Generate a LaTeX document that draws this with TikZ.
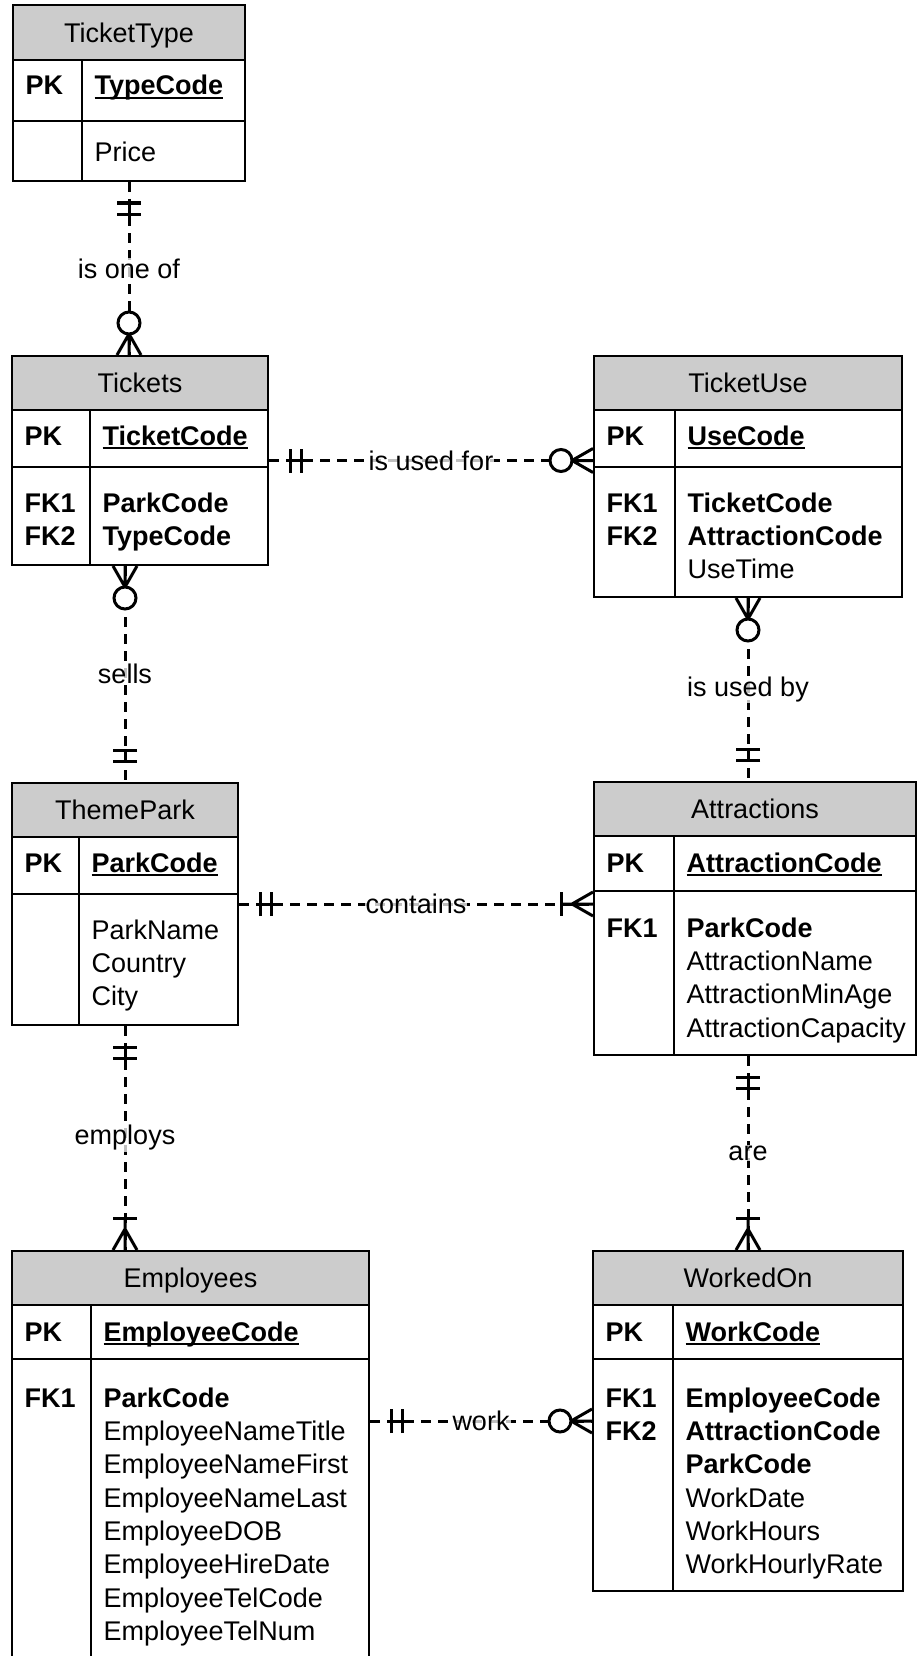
\documentclass[tikz,border=0pt]{standalone}
\usepackage{fontspec}
\setmainfont{Liberation Sans}
\usetikzlibrary{calc}
\definecolor{hdrgray}{RGB}{204,204,204}
\newcommand{\efont}{\fontsize{27}{33.3}\selectfont}
\newcommand{\ulfield}[1]{\draw[line width=2pt] ([yshift=-3pt]#1.base west) -- ([yshift=-3pt]#1.base east);}
\newcommand{\oneonly}[2]{\begin{scope}[shift={(#1)}, rotate=#2]
  \draw[sym] (21pt,-12pt) -- (21pt,12pt) (32pt,-12pt) -- (32pt,12pt) (21pt,0pt) -- (32pt,0pt);
\end{scope}}
\newcommand{\zeromany}[2]{\begin{scope}[shift={(#1)}, rotate=#2]
  \draw[sym] (0pt,-12pt) -- (21pt,0pt) -- (0pt,12pt) (0pt,0pt) -- (21pt,0pt);
  \draw[sym, fill=white] (32pt,0pt) circle (11pt);
\end{scope}}
\newcommand{\onemany}[2]{\begin{scope}[shift={(#1)}, rotate=#2]
  \draw[sym] (0pt,-12pt) -- (21pt,0pt) -- (0pt,12pt) (0pt,0pt) -- (32pt,0pt);
  \draw[sym] (32pt,-12pt) -- (32pt,12pt);
\end{scope}}
\begin{document}
\begin{tikzpicture}[x=1pt,y=-1pt,
  entbox/.style={draw, line width=2pt, inner sep=0pt, rectangle},
  hdrbox/.style={draw, line width=2pt, fill=hdrgray, inner sep=0pt, rectangle, font=\efont, text height=19.5pt, text depth=0pt},
  sec/.style={line width=2pt},
  divl/.style={line width=1.6pt},
  key/.style={anchor=base west, inner sep=0pt, font=\efont\bfseries},
  bfld/.style={anchor=base west, inner sep=0pt, font=\efont\bfseries},
  att/.style={anchor=base west, inner sep=0pt, font=\efont},
  rel/.style={line width=3pt, dash pattern=on 10pt off 7pt},
  sym/.style={line width=3pt, solid},
  lbl/.style={fill=white, fill opacity=0.75, text opacity=1, inner sep=1pt, font=\efont}
]
\useasboundingbox (0,0) rectangle (916,1656);

% ---------------- TicketType
\node[entbox, minimum width=232pt, minimum height=176pt] (tt) at (129,93) {};
\node[hdrbox, minimum width=232pt, minimum height=55pt, anchor=north] (tth) at (tt.north) {TicketType};
\draw[sec] (13,121) -- (245,121);
\draw[divl] (82,60) -- (82,181);
\node[key] (ttk1) at (25.5,95) {PK};
\node[bfld] (ttf1) at (94.5,95) {TypeCode};
\ulfield{ttf1}
\node[att] (ttf2) at (94.5,162) {Price};

% ---------------- Tickets
\node[entbox, minimum width=256pt, minimum height=209pt] (tickets) at (140,460.5) {};
\node[hdrbox, minimum width=256pt, minimum height=54pt, anchor=north] (tih) at (tickets.north) {Tickets};
\draw[sec] (12,467) -- (268,467);
\draw[divl] (90,410) -- (90,565);
\node[key] (tik1) at (24.5,445) {PK};
\node[bfld] (tif1) at (102.5,445) {TicketCode};
\ulfield{tif1}
\node[key] (tik2) at (24.5,512) {FK1};
\node[bfld] (tif2) at (102.5,512) {ParkCode};
\node[key] (tik3) at (24.5,545.3) {FK2};
\node[bfld] (tif3) at (102.5,545.3) {TypeCode};

% ---------------- TicketUse
\node[entbox, minimum width=308pt, minimum height=241pt] (tu) at (748,476.5) {};
\node[hdrbox, minimum width=308pt, minimum height=54pt, anchor=north] (tuh) at (tu.north) {TicketUse};
\draw[sec] (594,467) -- (902,467);
\draw[divl] (675,410) -- (675,597);
\node[key] (tuk1) at (606.5,445) {PK};
\node[bfld] (tuf1) at (687.5,445) {UseCode};
\ulfield{tuf1}
\node[key] (tuk2) at (606.5,512) {FK1};
\node[bfld] (tuf2) at (687.5,512) {TicketCode};
\node[key] (tuk3) at (606.5,545.3) {FK2};
\node[bfld] (tuf3) at (687.5,545.3) {AttractionCode};
\node[att] (tuf4) at (687.5,578.6) {UseTime};

% ---------------- ThemePark
\node[entbox, minimum width=226pt, minimum height=242pt] (tp) at (125,904) {};
\node[hdrbox, minimum width=226pt, minimum height=54pt, anchor=north] (tph) at (tp.north) {ThemePark};
\draw[sec] (12,894) -- (238,894);
\draw[divl] (79,837) -- (79,1025);
\node[key] (tpk1) at (24.5,872) {PK};
\node[bfld] (tpf1) at (91.5,872) {ParkCode};
\ulfield{tpf1}
\node[att] (tpf2) at (91.5,939) {ParkName};
\node[att] (tpf3) at (91.5,972.3) {Country};
\node[att] (tpf4) at (91.5,1005.6) {City};

% ---------------- Attractions
\node[entbox, minimum width=322pt, minimum height=273pt] (attr) at (755,918.5) {};
\node[hdrbox, minimum width=322pt, minimum height=54pt, anchor=north] (atth) at (attr.north) {Attractions};
\draw[sec] (594,891) -- (916,891);
\draw[divl] (674,836) -- (674,1055);
\node[key] (atk1) at (606.5,872) {PK};
\node[bfld] (atf1) at (686.5,872) {AttractionCode};
\ulfield{atf1}
\node[key] (atk2) at (606.5,937) {FK1};
\node[bfld] (atf2) at (686.5,937) {ParkCode};
\node[att] (atf3) at (686.5,970.3) {AttractionName};
\node[att] (atf4) at (686.5,1003.6) {AttractionMinAge};
\node[att] (atf5) at (686.5,1037) {AttractionCapacity};

% ---------------- Employees
\node[entbox, minimum width=357pt, minimum height=419pt] (emp) at (190.5,1460.5) {};
\node[hdrbox, minimum width=357pt, minimum height=54pt, anchor=north] (emph) at (emp.north) {Employees};
\draw[sec] (12,1359) -- (369,1359);
\draw[divl] (91,1305) -- (91,1670);
\node[key] (emk1) at (24.5,1341) {PK};
\node[bfld] (emf1) at (103.5,1341) {EmployeeCode};
\ulfield{emf1}
\node[key] (emk2) at (24.5,1407) {FK1};
\node[bfld] (emf2) at (103.5,1407) {ParkCode};
\node[att] (emf3) at (103.5,1440.3) {EmployeeNameTitle};
\node[att] (emf4) at (103.5,1473.6) {EmployeeNameFirst};
\node[att] (emf5) at (103.5,1507) {EmployeeNameLast};
\node[att] (emf6) at (103.5,1540.3) {EmployeeDOB};
\node[att] (emf7) at (103.5,1573.6) {EmployeeHireDate};
\node[att] (emf8) at (103.5,1607) {EmployeeTelCode};
\node[att] (emf9) at (103.5,1640.3) {EmployeeTelNum};

% ---------------- WorkedOn
\node[entbox, minimum width=310pt, minimum height=340pt] (wo) at (748,1421) {};
\node[hdrbox, minimum width=310pt, minimum height=54pt, anchor=north] (woh) at (wo.north) {WorkedOn};
\draw[sec] (593,1359) -- (903,1359);
\draw[divl] (673,1305) -- (673,1591);
\node[key] (wok1) at (605.5,1341) {PK};
\node[bfld] (wof1) at (685.5,1341) {WorkCode};
\ulfield{wof1}
\node[key] (wok2) at (605.5,1407) {FK1};
\node[bfld] (wof2) at (685.5,1407) {EmployeeCode};
\node[key] (wok3) at (605.5,1440.3) {FK2};
\node[bfld] (wof3) at (685.5,1440.3) {AttractionCode};
\node[bfld] (wof4) at (685.5,1473.6) {ParkCode};
\node[att] (wof5) at (685.5,1507) {WorkDate};
\node[att] (wof6) at (685.5,1540.3) {WorkHours};
\node[att] (wof7) at (685.5,1573.6) {WorkHourlyRate};

% ---------------- connector end points
\coordinate (c1a) at (tt.south);
\coordinate (c1b) at (tt.south |- tickets.north);
\coordinate (c2a) at (tickets.east);
\coordinate (c2b) at (tickets.east -| tu.west);
\coordinate (c3a) at (tp.north |- tickets.south);
\coordinate (c3b) at (tp.north);
\coordinate (c4a) at (tu.south);
\coordinate (c4b) at (tu.south |- attr.north);
\coordinate (c5a) at (tp.east);
\coordinate (c5b) at (tp.east -| attr.west);
\coordinate (c6a) at (tp.south);
\coordinate (c6b) at (tp.south |- emp.north);
\coordinate (c7a) at (wo.north |- attr.south);
\coordinate (c7b) at (wo.north);
\coordinate (c8a) at (wo.west -| emp.east);
\coordinate (c8b) at (wo.west);

% ---------------- relationships
\draw[rel] (c1a) -- node[lbl] (l1) {is one of} (c1b);
\draw[rel] (c2a) -- node[lbl] (l2) {is used for} (c2b);
\draw[rel] (c3a) -- node[lbl] (l3) {sells} (c3b);
\draw[rel] (c4a) -- node[lbl] (l4) {is used by} (c4b);
\draw[rel] (c5a) -- node[lbl] (l5) {contains} (c5b);
\draw[rel] (c6a) -- node[lbl] (l6) {employs} (c6b);
\draw[rel] (c7a) -- node[lbl] (l7) {are} (c7b);
\draw[rel] (c8a) -- node[lbl] (l8) {work} (c8b);

% ---------------- cardinality symbols
\oneonly{c1a}{-90}
\zeromany{c1b}{90}
\oneonly{c2a}{0}
\zeromany{c2b}{180}
\zeromany{c3a}{-90}
\oneonly{c3b}{90}
\zeromany{c4a}{-90}
\oneonly{c4b}{90}
\oneonly{c5a}{0}
\onemany{c5b}{180}
\oneonly{c6a}{-90}
\onemany{c6b}{90}
\oneonly{c7a}{-90}
\onemany{c7b}{90}
\oneonly{c8a}{0}
\zeromany{c8b}{180}
\end{tikzpicture}
\end{document}
